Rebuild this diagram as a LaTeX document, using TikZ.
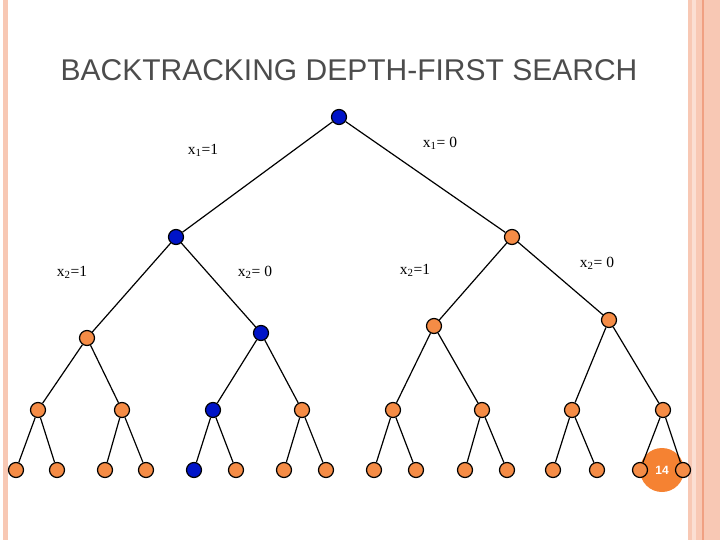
\documentclass[tikz,border=0pt]{standalone}
\usepackage{fontspec}
\setmainfont{Liberation Serif}
\newfontfamily\sans{Liberation Sans}
\definecolor{nodeor}{RGB}{245,140,70}
\definecolor{nodebl}{RGB}{0,20,200}
\definecolor{stripe}{RGB}{248,200,180}
\definecolor{stripedk}{RGB}{240,160,130}
\definecolor{badge}{RGB}{245,130,50}
\begin{document}
\begin{tikzpicture}[x=1pt,y=-1pt,
  tn/.style={circle,draw=black,line width=1.2pt,minimum size=15pt,inner sep=0pt,fill=nodeor},
  bn/.style={tn,fill=nodebl},
  edge/.style={line width=1.2pt},
  lab/.style={font=\fontsize{15.5}{18}\selectfont}]
\useasboundingbox (0,0) rectangle (720,540);
\fill[stripe] (3,0) rectangle (8,540);
\fill[stripe] (688,0) rectangle (692,540);
\fill[stripe!60] (692,0) rectangle (696,540);
\fill[stripe] (696,0) rectangle (720,540);
\fill[stripedk] (702,0) rectangle (703.5,540);
\node[text=black!70,font=\sans\fontsize{30}{34}\selectfont] (title) at (349,70) {BACKTRACKING DEPTH-FIRST SEARCH};
\fill[badge] (662,470) circle (22);
\node[text=white,font=\sans\bfseries\fontsize{12}{14}\selectfont] (pg) at (662,470) {14};
\node[bn] (r) at (339,117) {};
\node[bn] (a) at (176,237) {};
\node[tn] (b) at (512,237) {};
\node[tn] (a1) at (87,338) {};
\node[bn] (a2) at (261,333) {};
\node[tn] (b1) at (434,326) {};
\node[tn] (b2) at (609,320) {};
\foreach \n/\x/\s in {c1/38/tn,c2/122/tn,c3/213/bn,c4/302/tn,c5/393/tn,c6/482/tn,c7/572/tn,c8/663/tn}{
  \node[\s] (\n) at (\x,410) {};
}
\foreach \i/\x in {1/16,2/57,3/105,4/146,6/236,7/284,8/326,9/374,10/416,11/465,12/507,13/553,14/597,15/640,16/683}{
  \node[tn] (d\i) at (\x,470) {};
}
\node[bn] (d5) at (194,470) {};
\draw[edge] (r) -- (a); \draw[edge] (r) -- (b);
\draw[edge] (a) -- (a1); \draw[edge] (a) -- (a2);
\draw[edge] (b) -- (b1); \draw[edge] (b) -- (b2);
\draw[edge] (a1) -- (c1); \draw[edge] (a1) -- (c2);
\draw[edge] (a2) -- (c3); \draw[edge] (a2) -- (c4);
\draw[edge] (b1) -- (c5); \draw[edge] (b1) -- (c6);
\draw[edge] (b2) -- (c7); \draw[edge] (b2) -- (c8);
\draw[edge] (c1) -- (d1); \draw[edge] (c1) -- (d2);
\draw[edge] (c2) -- (d3); \draw[edge] (c2) -- (d4);
\draw[edge] (c3) -- (d5); \draw[edge] (c3) -- (d6);
\draw[edge] (c4) -- (d7); \draw[edge] (c4) -- (d8);
\draw[edge] (c5) -- (d9); \draw[edge] (c5) -- (d10);
\draw[edge] (c6) -- (d11); \draw[edge] (c6) -- (d12);
\draw[edge] (c7) -- (d13); \draw[edge] (c7) -- (d14);
\draw[edge] (c8) -- (d15); \draw[edge] (c8) -- (d16);
\node[lab] (l1) at (203,150) {x\textsubscript{1}=1};
\node[lab] (l2) at (440,143) {x\textsubscript{1}= 0};
\node[lab] (l3) at (72,272) {x\textsubscript{2}=1};
\node[lab] (l4) at (255,272) {x\textsubscript{2}= 0};
\node[lab] (l5) at (415,270) {x\textsubscript{2}=1};
\node[lab] (l6) at (597,263) {x\textsubscript{2}= 0};
\end{tikzpicture}
\end{document}
